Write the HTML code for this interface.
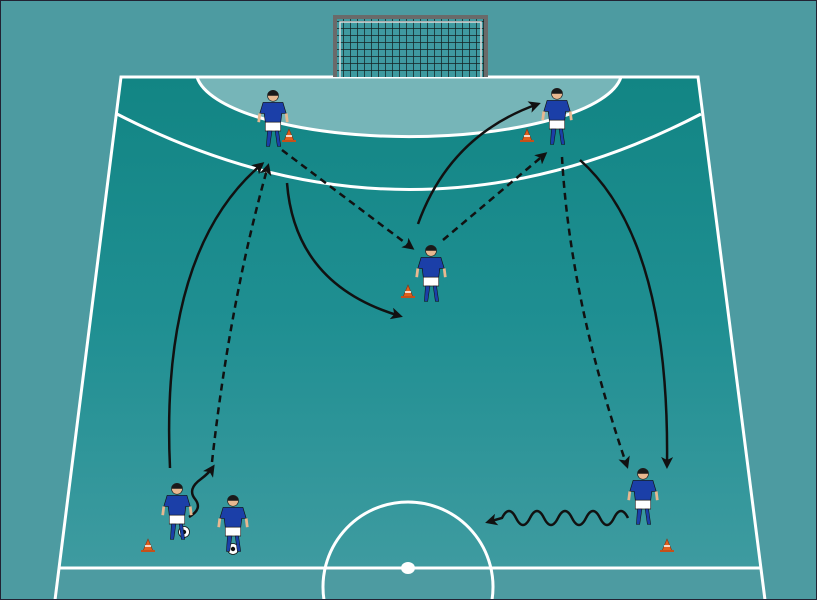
<!DOCTYPE html>
<html><head><meta charset="utf-8"><style>
html,body{margin:0;padding:0;background:#4d9ba1;}
svg{display:block;}
</style></head><body>
<svg width="817" height="600" viewBox="0 0 817 600" xmlns="http://www.w3.org/2000/svg">
<defs>
<linearGradient id="pg" x1="0" y1="0" x2="0" y2="1">
<stop offset="0" stop-color="#128584"/>
<stop offset="0.5" stop-color="#1f8f92"/>
<stop offset="1" stop-color="#3e9ba0"/>
</linearGradient>
<marker id="ah" markerWidth="12" markerHeight="12" refX="9" refY="6" orient="auto" markerUnits="userSpaceOnUse" viewBox="0 0 12 12">
<path d="M0,0 L12,6 L0,12 L3,6 z" fill="#111"/>
</marker>
<pattern id="net" width="7" height="7" patternUnits="userSpaceOnUse">
<rect width="7" height="7" fill="#3f9aa0"/>
<path d="M0,0 H7 M0,0 V7" stroke="#142222" stroke-width="1.5"/>
</pattern>
<g id="pl">
<circle cx="0" cy="-22" r="5" fill="#e8b890" stroke="#222" stroke-width="0.6"/>
<path d="M-5,-24 Q0,-30 5,-24 L5,-22 L-5,-22z" fill="#1a1a1a"/>
<path d="M-9,-16 L9,-16 L12,-6 L8,-6 L7,2 L-7,2 L-8,-6 L-12,-6z" fill="#1b3fa8" stroke="#111" stroke-width="0.6"/>
<path d="M-7,2 L7,2 L7,10 L-7,10z" fill="#fff" stroke="#222" stroke-width="0.6"/>
<path d="M-5,10 L-6,24 L-3,24 L-1,10z M2,10 L4,24 L7,24 L5,10z" fill="#1b3fa8" stroke="#111" stroke-width="0.5"/>
<path d="M-12,-6 L-13,2 M12,-6 L13,2" stroke="#e8b890" stroke-width="2.5"/>
</g>
<g id="cone">
<path d="M-5,6 L0,-6 L5,6z" fill="#e0601c" stroke="#8a3010" stroke-width="0.6"/>
<path d="M-3,1 L3,1" stroke="#fff" stroke-width="1.5"/>
<rect x="-7" y="5" width="14" height="2" fill="#c4501a"/>
</g>
<g id="ball">
<circle r="5.5" fill="#fff" stroke="#111" stroke-width="0.8"/>
<circle r="2.2" fill="#111"/>
</g>
</defs>
<rect width="817" height="600" fill="#4d9ba1"/>
<path d="M122,77 L697,77 L760,568 L59,568 Z" fill="url(#pg)"/>
<path d="M197,77 A213,66 0 0 0 621,77 Z" fill="#76b5b8" stroke="#fff" stroke-width="3"/>
<path d="M117,114 Q410,265 701,114" fill="none" stroke="#fff" stroke-width="3"/>
<path d="M55,600 L121,77 L698,77 L765,600" fill="none" stroke="#fff" stroke-width="3"/>
<line x1="59" y1="568" x2="760" y2="568" stroke="#fff" stroke-width="3"/>
<path d="M324,600 A85,85 0 1 1 492,600" fill="none" stroke="#fff" stroke-width="3"/>
<ellipse cx="408" cy="568" rx="7" ry="6" fill="#fff"/>
<rect x="336" y="19" width="148" height="58" fill="url(#net)"/>
<path d="M335,77 L335,17 L486,17 L486,77" fill="none" stroke="#6a6a6a" stroke-width="4"/>
<path d="M340,77 L340,22 L481,22 L481,77" fill="none" stroke="#ddd" stroke-width="1.5"/>
<rect x="0" y="0" width="817" height="600" fill="none" stroke="#223" stroke-width="2"/>
<g fill="none" stroke="#111" stroke-width="2.5">
<path d="M170,468 Q160,250 262,164" marker-end="url(#ah)"/>
<path d="M212,462 Q230,300 268,166" stroke-dasharray="7,5" marker-end="url(#ah)"/>
<path d="M282,150 L412,248" stroke-dasharray="7,5" marker-end="url(#ah)"/>
<path d="M287,183 Q295,285 400,316" marker-end="url(#ah)"/>
<path d="M418,224 Q450,135 538,104" marker-end="url(#ah)"/>
<path d="M443,240 L545,154" stroke-dasharray="7,5" marker-end="url(#ah)"/>
<path d="M562,157 Q570,300 627,466" stroke-dasharray="7,5" marker-end="url(#ah)"/>
<path d="M580,160 Q670,240 667,466" marker-end="url(#ah)"/>
<path d="M628,518 q-7,-14 -14,0 t-14,0 t-14,0 t-14,0 t-14,0 t-14,0 t-14,0 t-14,0 t-14,0 L488,522" marker-end="url(#ah)"/>
<path d="M189,517 q14,-8 6,-18 q-8,-10 6,-20 q8,-6 12,-12" marker-end="url(#ah)"/>
</g>
<use href="#cone" x="289" y="135"/>
<use href="#cone" x="527" y="135"/>
<use href="#cone" x="408" y="291"/>
<use href="#cone" x="148" y="545"/>
<use href="#cone" x="667" y="545"/>
<use href="#ball" x="184" y="532"/>
<use href="#ball" x="233" y="549"/>
<use href="#pl" transform="translate(273,120) scale(1.1)"/>
<use href="#pl" transform="translate(557,118) scale(1.1)"/>
<use href="#pl" transform="translate(431,275) scale(1.1)"/>
<use href="#pl" transform="translate(177,513) scale(1.1)"/>
<use href="#pl" transform="translate(233,525) scale(1.1)"/>
<use href="#pl" transform="translate(643,498) scale(1.1)"/>
</svg>
</body></html>
